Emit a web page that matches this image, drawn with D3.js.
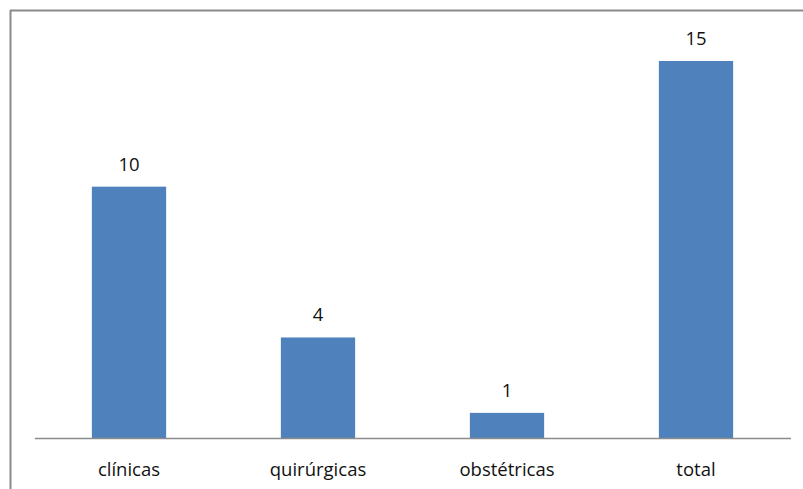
<!DOCTYPE html>
<html>
<head>
<meta charset="utf-8">
<script src="https://cdn.jsdelivr.net/npm/d3@7"></script>
<style>
  html, body { margin: 0; padding: 0; background: #fff; }
  svg { display: block; }
  text { font-family: "Open Sans", Lato, sans-serif; fill: #111; }
</style>
</head>
<body>
<svg id="chart" width="803" height="489"></svg>
<script>
const categories = ["clínicas", "quirúrgicas", "obstétricas", "total"];
const values = [10, 4, 1, 15];

const svg = d3.select("#chart");
const W = 803, H = 489;
const FONT = 18.5;

// outer frame (top and left edges visible)
svg.append("line").attr("x1", 10).attr("x2", W).attr("y1", 10.5).attr("y2", 10.5)
  .attr("stroke", "#8a8a8a").attr("stroke-width", 2);
svg.append("line").attr("x1", 10.5).attr("x2", 10.5).attr("y1", 10).attr("y2", H)
  .attr("stroke", "#8a8a8a").attr("stroke-width", 2);

const plot = { left: 34.5, right: 790.5, top: 61, bottom: 438 };

const x = d3.scaleBand()
  .domain(categories)
  .range([plot.left, plot.right])
  .paddingInner(0.607)
  .paddingOuter(0.3035);

const y = d3.scaleLinear()
  .domain([0, 15])
  .range([plot.bottom, plot.top]);

svg.append("g").selectAll("rect")
  .data(values)
  .join("rect")
  .attr("x", (d, i) => x(categories[i]))
  .attr("width", x.bandwidth())
  .attr("y", d => y(d))
  .attr("height", d => y(0) - y(d))
  .attr("fill", "#4f81bd");

// category axis
const axis = svg.append("g")
  .attr("transform", `translate(0,${plot.bottom})`)
  .call(d3.axisBottom(x).tickSize(0));
axis.select(".domain").attr("stroke", "#8c8c8c").attr("stroke-width", 1.5);
axis.selectAll("text")
  .attr("y", 38)
  .attr("dy", 0)
  .attr("font-size", FONT)
  .attr("font-family", "'Open Sans', Lato, sans-serif")
  .attr("fill", "#111");

// value labels
svg.append("g").selectAll("text")
  .data(values)
  .join("text")
  .attr("x", (d, i) => x(categories[i]) + x.bandwidth() / 2)
  .attr("y", d => y(d) - 16)
  .attr("text-anchor", "middle")
  .attr("font-size", FONT)
  .text(d => d);
</script>
</body>
</html>
